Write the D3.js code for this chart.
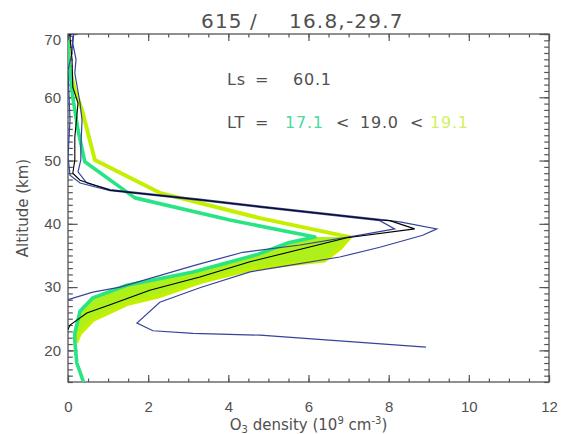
<!DOCTYPE html>
<html>
<head>
<meta charset="utf-8">
<script src="https://cdn.jsdelivr.net/npm/d3@7"></script>
<style>
  body { margin: 0; background: #fff; }
  svg { display: block; font-family: 'DejaVu Sans', sans-serif; }
  .axis text { fill: #505050; font-size: 15px; }
  .axis line { stroke: #555; stroke-width: 1.2; }
  .axis path { display: none; }
  .label { fill: #505050; }
</style>
</head>
<body>
<svg id="chart" width="567" height="434"></svg>
<script>
// tick labels
const xMajor = [0, 2, 4, 6, 8, 10, 12];
const yMajor = [20, 30, 40, 50, 60, 70];

// header texts
const titleParts = ['615', '/', '16.8,-29.7'];
const lsValue = '60.1';
const ltValues = ['17.1', '19.0', '19.1'];

// profiles as [density (1e9 cm-3), altitude (km)]
// LT 19.0 retrieved profile (black)
const profileMid = [
  [0.05, 70.5], [0.05, 69.5], [0.10, 66.0], [0.12, 61.6], [0.25, 59.1], [0.17, 53.7],
  [0.17, 50.1], [0.12, 48.0], [0.30, 46.9], [1.05, 45.3], [3.29, 43.8], [4.79, 42.7],
  [7.78, 40.6], [8.03, 40.5], [8.65, 39.2], [6.96, 37.8], [4.54, 34.0], [3.29, 31.6],
  [2.04, 29.5], [1.05, 27.2], [0.47, 25.9], [0.05, 24.0], [0.00, 23.3]
];

// lower bound (blue, left)
const profileLow = [
  [0.00, 70.5], [0.00, 69.8], [0.12, 69.6], [0.10, 67.0], [0.00, 64.3], [0.05, 56.4],
  [0.00, 50.6], [0.05, 47.7], [0.30, 46.45], [1.05, 45.25], [3.29, 43.7], [4.79, 42.6],
  [7.78, 40.5], [8.15, 39.2], [7.28, 38.2], [5.79, 36.65], [4.36, 35.5], [3.20, 33.5],
  [1.30, 30.0], [0.62, 29.2], [0.00, 28.0]
];

// upper bound (blue, right)
const profileHigh = [
  [0.15, 70.5], [0.12, 68.5], [0.20, 66.0], [0.17, 63.8], [0.30, 59.1], [0.35, 56.4],
  [0.32, 52.0], [0.32, 50.1], [0.25, 48.2], [0.47, 46.45], [1.05, 45.4], [3.29, 43.9],
  [4.79, 42.8], [7.78, 40.7], [8.28, 40.3], [9.20, 39.2], [8.85, 38.2], [7.78, 36.3],
  [6.78, 34.75], [5.29, 33.2], [4.54, 32.4], [3.29, 29.9], [2.29, 27.6], [1.72, 24.3],
  [2.12, 23.1], [3.12, 22.7], [4.79, 22.4], [8.93, 20.5]
];

// model profile LT 17.1 (green)
const profileLT17 = [
  [0.00, 69.0], [0.00, 67.0], [0.12, 60.0], [0.25, 54.8], [0.42, 49.8], [1.67, 44.1],
  [4.04, 40.6], [6.16, 37.9], [5.50, 37.0], [4.70, 35.1], [3.12, 32.4], [1.47, 30.3],
  [0.62, 28.3], [0.30, 26.2], [0.17, 22.7], [0.17, 21.4], [0.22, 18.0], [0.37, 15.3],
  [0.40, 14.8]
];

// model profile LT 19.1 (yellow)
const profileLT19 = [
  [0.00, 69.0], [0.00, 67.9], [0.05, 64.3], [0.17, 61.1], [0.35, 58.0], [0.67, 50.1],
  [2.29, 44.9], [4.79, 40.9], [7.03, 37.9], [6.80, 36.2], [6.40, 34.2], [5.80, 33.8],
  [4.60, 32.9], [3.30, 30.8], [2.30, 28.6], [1.47, 27.3], [0.62, 24.8], [0.30, 22.7],
  [0.20, 21.2]
];

const width = 567;
const height = 434;
const margin = { top: 34, left: 68, right: 18, bottom: 52 };
const innerW = width - margin.left - margin.right;
const innerH = height - margin.top - margin.bottom;

const svg = d3.select('#chart');

const x = d3.scaleLinear().domain([0, 12]).range([0, innerW]);
const y = d3.scaleLinear().domain([15, 70]).range([innerH, 0]);

const plot = svg.append('g')
  .attr('transform', `translate(${margin.left}, ${margin.top})`);

plot.append('clipPath')
  .attr('id', 'clip')
  .append('rect')
  .attr('width', innerW)
  .attr('height', innerH);

// axes: ticks point inward, minor ticks drawn separately
const xMinor = d3.range(0, 12.01, 0.5);
const yMinor = d3.range(15, 70.01, 1);

plot.append('g')
  .attr('class', 'axis')
  .attr('transform', `translate(0, ${innerH})`)
  .call(d3.axisBottom(x).tickValues(xMinor).tickSize(-3.5).tickFormat(''));
plot.append('g')
  .attr('class', 'axis')
  .attr('transform', `translate(0, ${innerH})`)
  .call(d3.axisBottom(x).tickValues(xMajor).tickSize(-7).tickPadding(19).tickFormat(d3.format('d')));
plot.append('g')
  .attr('class', 'axis')
  .call(d3.axisTop(x).tickValues(xMinor).tickSize(-3.5).tickFormat(''));
plot.append('g')
  .attr('class', 'axis')
  .call(d3.axisTop(x).tickValues(xMajor).tickSize(-7).tickFormat(''));

plot.append('g')
  .attr('class', 'axis')
  .call(d3.axisLeft(y).tickValues(yMinor).tickSize(-4.8).tickFormat(''));
const leftAxis = plot.append('g')
  .attr('class', 'axis')
  .call(d3.axisLeft(y).tickValues(yMajor).tickSize(-9.6).tickPadding(7).tickFormat(d3.format('d')));
plot.append('g')
  .attr('class', 'axis')
  .attr('transform', `translate(${innerW}, 0)`)
  .call(d3.axisRight(y).tickValues(yMinor).tickSize(-4.8).tickFormat(''));
plot.append('g')
  .attr('class', 'axis')
  .attr('transform', `translate(${innerW}, 0)`)
  .call(d3.axisRight(y).tickValues(yMajor).tickSize(-9.6).tickFormat(''));

// top label sits a bit lower than its tick
leftAxis.selectAll('.tick text')
  .filter(d => d === 70)
  .attr('transform', 'translate(0, 6)');

// frame
plot.append('rect')
  .attr('width', innerW)
  .attr('height', innerH)
  .attr('fill', 'none')
  .attr('stroke', '#555')
  .attr('stroke-width', 1.3);

const line = d3.line()
  .x(d => x(d[0]))
  .y(d => y(d[1]));

const curves = plot.append('g').attr('clip-path', 'url(#clip)');

// band between the lower branches of the two model profiles
let i17 = d3.maxIndex(profileLT17, d => d[0]);
let i19 = d3.maxIndex(profileLT19, d => d[0]);
let band = profileLT17.slice(i17).filter(d => d[1] > 21)
  .concat(profileLT19.slice(i19).reverse());

curves.append('path')
  .attr('d', line(band) + 'Z')
  .attr('fill', '#aef01a')
  .attr('stroke', 'none');

curves.append('path')
  .attr('d', line(profileLT19))
  .attr('fill', 'none')
  .attr('stroke', '#c4f000')
  .attr('stroke-width', 4)
  .attr('stroke-linejoin', 'round');

curves.append('path')
  .attr('d', line(profileLT17))
  .attr('fill', 'none')
  .attr('stroke', '#28e482')
  .attr('stroke-width', 3.6)
  .attr('stroke-linejoin', 'round');

[profileLow, profileHigh].forEach(p => {
  curves.append('path')
    .attr('d', line(p))
    .attr('fill', 'none')
    .attr('stroke', '#34449a')
    .attr('stroke-width', 1.2);
});

curves.append('path')
  .attr('d', line(profileMid))
  .attr('fill', 'none')
  .attr('stroke', '#000')
  .attr('stroke-width', 1.1);

// title
let title = svg.append('text')
  .attr('class', 'label')
  .attr('y', 28)
  .attr('font-size', 20)
  .attr('letter-spacing', 1.2);
title.append('tspan').attr('x', 201).text(titleParts[0]);
title.append('tspan').attr('x', 250).text(titleParts[1]);
title.append('tspan').attr('x', 289).text(titleParts[2]);

// Ls / LT annotation
let ls = svg.append('text')
  .attr('class', 'label')
  .attr('y', 85)
  .attr('font-size', 16)
  .attr('letter-spacing', 0.8);
ls.append('tspan').attr('x', 227).text('Ls');
ls.append('tspan').attr('x', 255).text('=');
ls.append('tspan').attr('x', 293).text(lsValue);

let lt = svg.append('text')
  .attr('class', 'label')
  .attr('y', 128)
  .attr('font-size', 16)
  .attr('letter-spacing', 0.8);
lt.append('tspan').attr('x', 227).text('LT');
lt.append('tspan').attr('x', 255).text('=');
lt.append('tspan').attr('x', 285).attr('fill', '#4cd9a0').text(ltValues[0]);
lt.append('tspan').attr('x', 336).text('<');
lt.append('tspan').attr('x', 360).text(ltValues[1]);
lt.append('tspan').attr('x', 410).text('<');
lt.append('tspan').attr('x', 430).attr('fill', '#d2f060').text(ltValues[2]);

// axis titles
let xt = svg.append('text')
  .attr('class', 'label')
  .attr('x', margin.left + innerW / 2)
  .attr('y', 430)
  .attr('text-anchor', 'middle')
  .attr('font-size', 15);
xt.append('tspan').text('O');
xt.append('tspan').attr('font-size', 10).attr('dy', 3).text('3');
xt.append('tspan').attr('dy', -3).text(' density (10');
xt.append('tspan').attr('font-size', 10).attr('dy', -6).text('9');
xt.append('tspan').attr('dy', 6).text(' cm');
xt.append('tspan').attr('font-size', 10).attr('dy', -6).text('-3');
xt.append('tspan').attr('dy', 6).text(')');

svg.append('text')
  .attr('class', 'label')
  .attr('transform', `translate(28, ${margin.top + innerH / 2}) rotate(-90)`)
  .attr('text-anchor', 'middle')
  .attr('font-size', 15)
  .text('Altitude (km)');
</script>
</body>
</html>
